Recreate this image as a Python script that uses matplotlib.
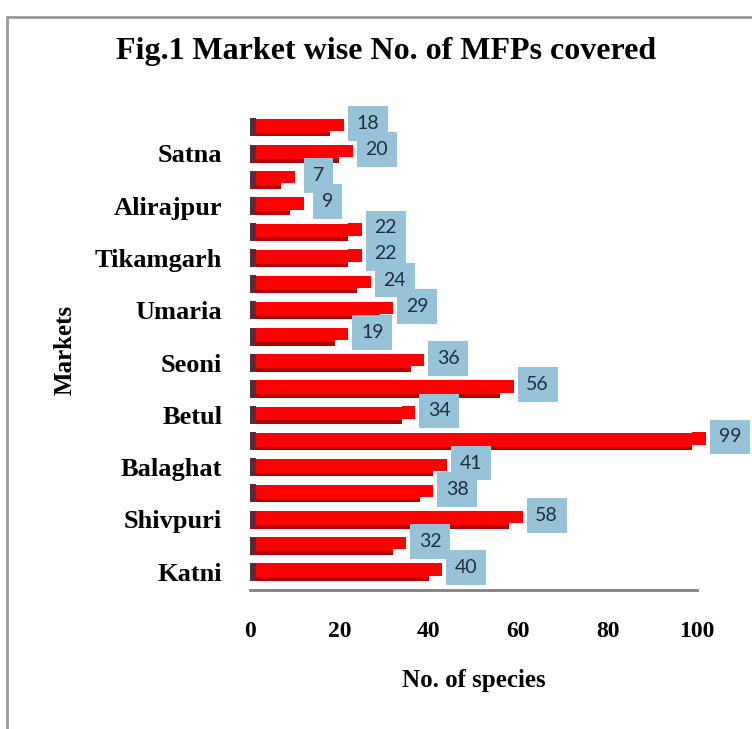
import matplotlib.pyplot as plt
from matplotlib.patches import Rectangle

# markets from bottom to top, only every other one is labelled on the axis
markets = ['Katni', '', 'Shivpuri', '', 'Balaghat', '', 'Betul', '', 'Seoni', '',
           'Umaria', '', 'Tikamgarh', '', 'Alirajpur', '', 'Satna', '']
species = [40, 32, 58, 38, 41, 99, 34, 56, 36, 19, 29, 24, 22, 22, 9, 7, 20, 18]
xticks = [0, 20, 40, 60, 80, 100]

fig = plt.figure(figsize=(7.52, 7.29), dpi=100)
ax = fig.add_axes([0.3324, 0.1907, 0.5944, 0.6598])

# grey frame round the chart area
fig.patches.append(Rectangle((7 / 752, -0.1), 1.2, 1.1 - 17 / 729,
                             transform=fig.transFigure, fill=False,
                             edgecolor='#9a9a9a', linewidth=2))

pos = list(range(len(species)))
h = 0.68
# 3D-ish bars: shadow, face, end cap, dark wall at the start
ax.barh([p - 0.03 for p in pos], species, height=h * 0.94, color='#b00000',
        zorder=2, clip_on=False)
ax.barh([p + 0.05 for p in pos], species, height=h * 0.78, color='#ff0000',
        zorder=3, clip_on=False)
ax.barh([p + 0.09 for p in pos], [3] * len(species), left=species, height=h * 0.7,
        color='#ff0000', zorder=3, clip_on=False)
ax.barh(pos, [1.3] * len(species), height=h, color='#5a2a3a', zorder=4)

for p, v in zip(pos, species):
    ax.annotate(str(v), (v + 3, p), xytext=(24, 4), textcoords='offset pixels',
                ha='center', va='center', fontsize=14, family='Lato',
                color='#1f2f3f', zorder=5, annotation_clip=False,
                bbox=dict(boxstyle='square,pad=0.45', fc='#96c3d7', ec='none'))

ax.set_xlim(0, 100)
ax.set_ylim(-0.7, len(species) - 0.3)
ax.set_xticks(xticks)
ax.set_xticklabels([str(t) for t in xticks], family='Liberation Serif',
                   fontweight='bold', fontsize=17)
ax.set_yticks(pos)
ax.set_yticklabels(markets, family='Liberation Serif', fontweight='bold', fontsize=19)
ax.tick_params(axis='x', length=0, pad=22)
ax.tick_params(axis='y', length=0, pad=20)
for s in ['top', 'right', 'left']:
    ax.spines[s].set_visible(False)
ax.spines['bottom'].set_color('#808080')
ax.spines['bottom'].set_linewidth(2)

ax.set_xlabel('No. of species', family='Liberation Serif', fontweight='bold',
              fontsize=18, labelpad=20)
ax.set_ylabel('Markets', family='Liberation Serif', fontweight='bold',
              fontsize=18, labelpad=13)
fig.text(0.513, 0.93, 'Fig.1 Market wise No. of MFPs covered', ha='center',
         va='center', family='Liberation Serif', fontweight='bold', fontsize=23)

fig.savefig('out.png', dpi=100)
